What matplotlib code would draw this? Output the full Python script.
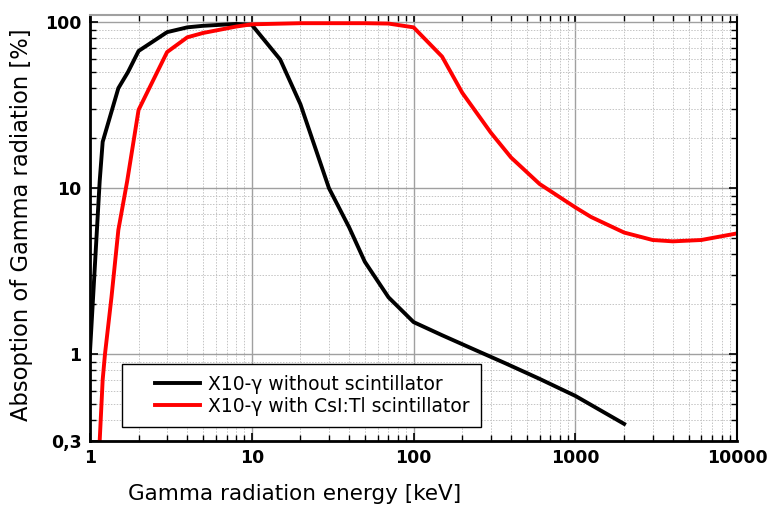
import numpy as np
import matplotlib.pyplot as plt
from matplotlib.ticker import LogLocator, NullFormatter
from matplotlib.legend_handler import HandlerLine2D

# X10-gamma without scintillator
energy_bare = [1, 1.15, 1.2, 1.5, 1.72, 2, 3, 4, 5, 8, 10, 15, 20, 30, 40, 50, 70,
               100, 150, 230, 370, 600, 1000, 2000]
absorb_bare = [1, 11, 19, 40, 50, 67, 87, 93, 95, 97.5, 96.5, 59.5, 32, 10, 5.8, 3.6, 2.2,
               1.56, 1.3, 1.08, 0.88, 0.71, 0.56, 0.38]

# X10-gamma with CsI:Tl scintillator
energy_csi = [1.15, 1.2, 1.24, 1.36, 1.5, 1.7, 2, 3, 4, 5, 6, 8, 10, 20, 50, 70,
              100, 150, 200, 300, 400, 600, 1000, 1250, 2000, 3000, 4000, 6000, 10000]
absorb_csi = [0.3, 0.7, 1.0, 2.2, 5.6, 11, 29.6, 66, 81, 86, 89, 94, 97, 98.5, 98.5, 98,
              93, 62, 37.5, 21.6, 15.3, 10.6, 7.65, 6.7, 5.4, 4.87, 4.78, 4.87, 5.34]

xticks = [1, 10, 100, 1000, 10000]
xtick_labels = ['1', '10', '100', '1000', '10000']
yticks = [0.3, 1, 10, 100]
ytick_labels = ['0,3', '1', '10', '100']

fig = plt.figure(figsize=(7.68, 5.08), dpi=100)
ax = fig.add_axes([0.117, 0.132, 0.843, 0.838])

ax.plot(energy_bare, absorb_bare, color='black', lw=2.8, label='X10-γ without scintillator')
ax.plot(energy_csi, absorb_csi, color='#ff0000', lw=2.8, label='X10-γ with CsI:Tl scintillator')

ax.set_xscale('log')
ax.set_yscale('log')
ax.set_xlim(1, 10000)
ax.set_ylim(0.3, 110)

ax.xaxis.set_minor_locator(LogLocator(base=10, subs=np.arange(2, 10)))
ax.yaxis.set_minor_locator(LogLocator(base=10, subs=np.arange(2, 10)))
ax.xaxis.set_minor_formatter(NullFormatter())
ax.yaxis.set_minor_formatter(NullFormatter())
ax.set_xticks(xticks)
ax.set_xticklabels(xtick_labels, fontweight='bold', fontsize=12.5)
ax.set_yticks(yticks)
ax.set_yticklabels(ytick_labels, fontweight='bold', fontsize=12.5)

ax.grid(True, which='major', color='#a0a0a0', lw=1.0, ls='-')
ax.grid(True, which='minor', color='#c4c4c4', lw=0.7, ls=(0, (1.5, 1.5)))
ax.set_axisbelow(True)

ax.tick_params(which='both', direction='in', top=True, right=True, color='black')
ax.tick_params(which='major', length=6, width=1.2, pad=6)
ax.tick_params(which='minor', length=4, width=1.0)

for side in ['left', 'bottom']:
    ax.spines[side].set_linewidth(2)
ax.spines['top'].set_color('#a0a0a0')
ax.spines['top'].set_linewidth(1.5)
ax.spines['right'].set_linewidth(1.5)

ax.set_xlabel('Gamma radiation energy [keV]', fontsize=15.5)
ax.set_ylabel('Absoption of Gamma radiation [%]', fontsize=16.3)
ax.xaxis.set_label_coords(0.317, -0.101)
ax.yaxis.set_label_coords(-0.088, 0.507)

leg = ax.legend(loc='lower left', bbox_to_anchor=(0.049, 0.033), borderaxespad=0,
                fontsize=13.5, fancybox=False, edgecolor='black', framealpha=1,
                handlelength=3.57, handletextpad=0.43, borderpad=0.6, labelspacing=0.15,
                handler_map={plt.Line2D: HandlerLine2D(xpad=1.17)})
leg.get_frame().set_linewidth(1.0)

fig.savefig('out.png', dpi=100)
